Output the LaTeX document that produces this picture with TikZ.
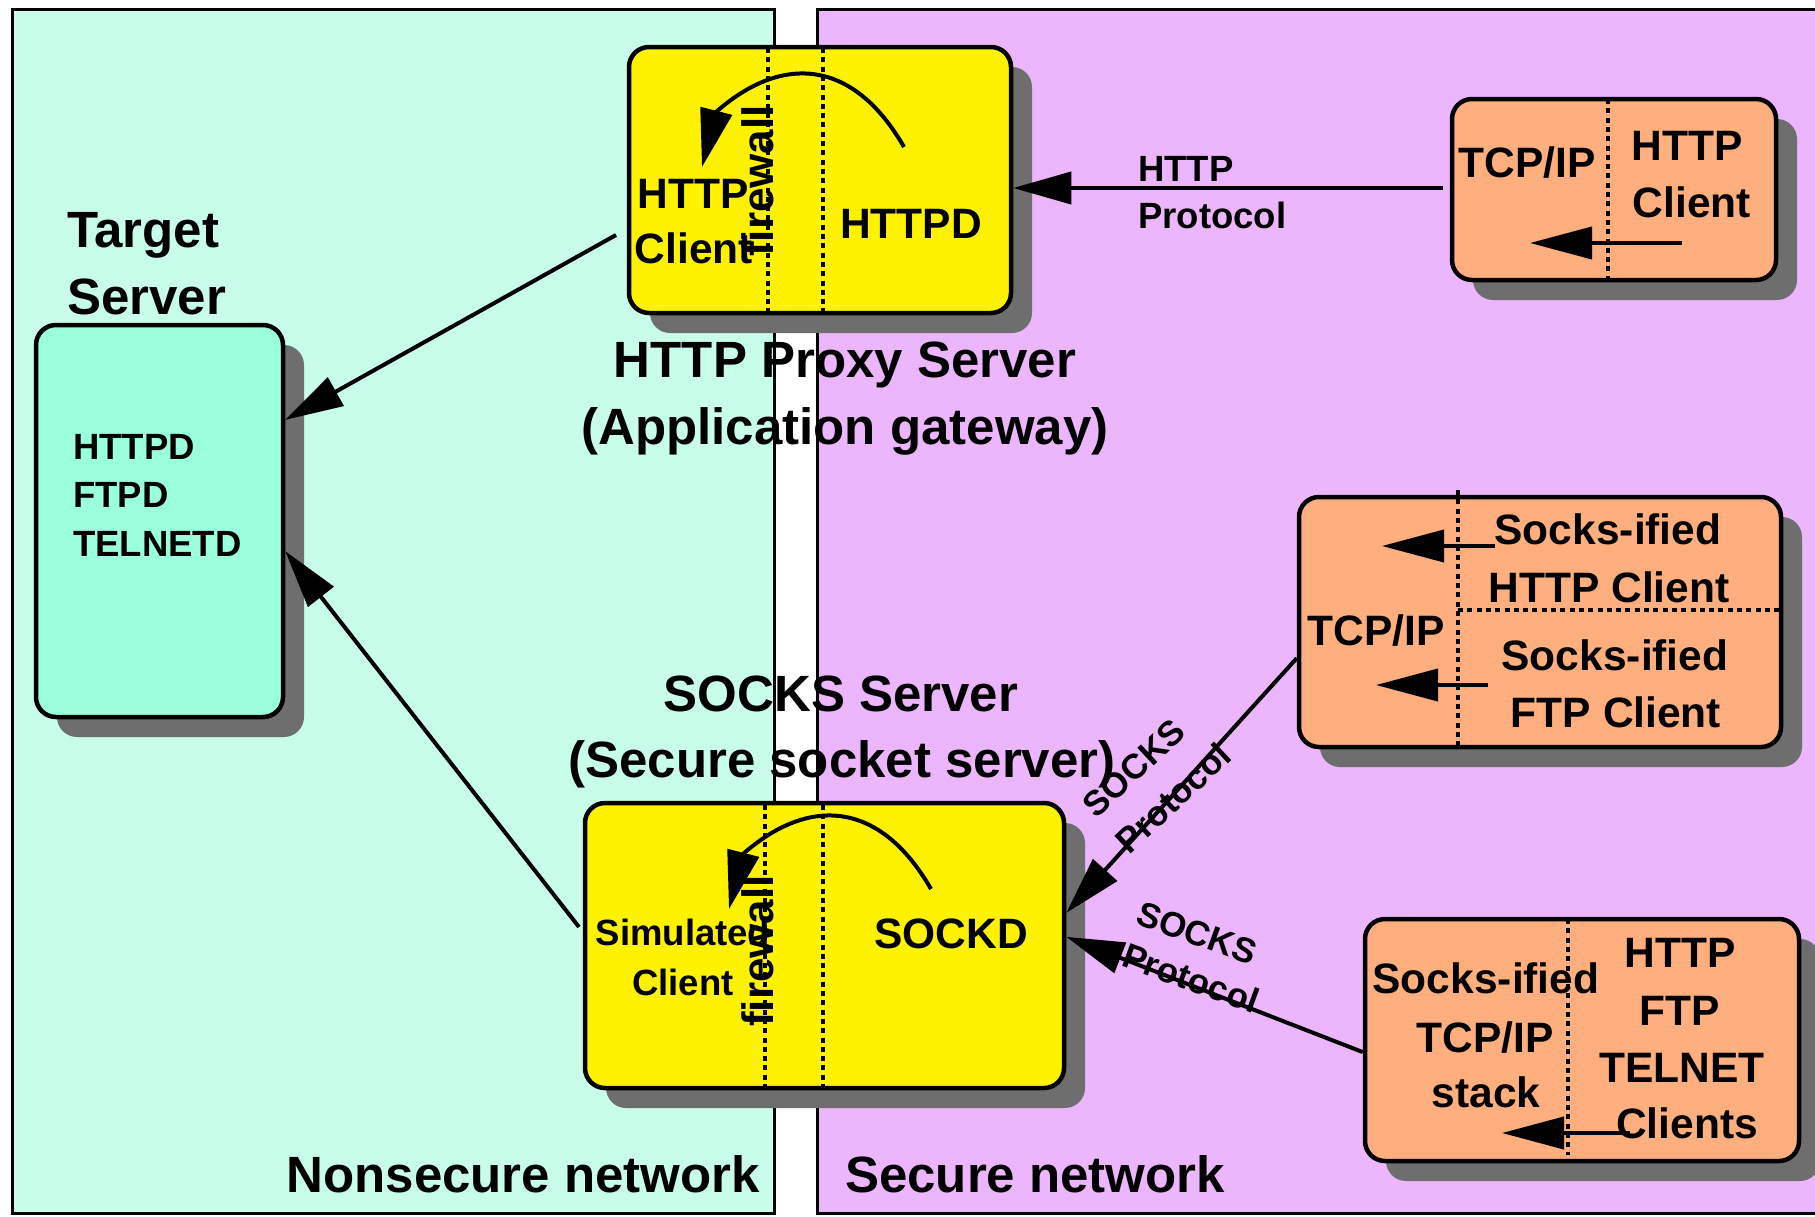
\documentclass[tikz,border=0pt]{standalone}
\usepackage{fontspec}
\setmainfont{Liberation Sans}
\usetikzlibrary{arrows.meta,shadows,calc}
\definecolor{mintbg}{HTML}{C8FDEA}
\definecolor{secbg}{HTML}{EBB6FB}
\definecolor{tgtgreen}{HTML}{99FFDD}
\definecolor{orng}{HTML}{FFAE7D}
\definecolor{shgray}{HTML}{6E6E6E}
\newcommand\fsz[1]{\fontsize{#1}{#1}\selectfont\bfseries}
\tikzset{
  box/.style={draw, line width=4.5pt, rounded corners=20pt,
    drop shadow={shadow xshift=21pt, shadow yshift=-20pt, fill=shgray, opacity=1}},
  conn/.style={line width=4pt, -{Triangle[length=58pt,width=32pt]}},
  inarr/.style={line width=4pt, -{Triangle[length=62pt,width=32pt]}},
  dots/.style={line width=4pt, dash pattern=on 5pt off 4.3pt},
  tT/.style={inner sep=0, font={\fsz{51}}},
  tM/.style={inner sep=0, font={\fsz{42.5}}},
  tS/.style={inner sep=0, font={\fsz{36.5}}},
  tF/.style={inner sep=0, font={\fsz{44}}, rotate=90},
  tP/.style={inner sep=0, font={\fsz{35}}},
}
\begin{document}
\begin{tikzpicture}[x=1pt,y=-1pt]
\useasboundingbox (0,0) rectangle (1815,1216);
\clip (0,0) rectangle (1815,1216);
\fill[white] (0,0) rectangle (1815,1216);
% network panels
\draw[line width=3pt, fill=mintbg] (12,9) rectangle (774,1213);
\draw[line width=3pt, fill=secbg] (817,9) rectangle (1850,1213);

% boxes
\node[box, fill=tgtgreen, minimum width=247pt, minimum height=392pt] (target) at (159.5,521) {};
\node[box, fill=yellow, minimum width=382pt, minimum height=266pt] (proxy) at (820,180) {};
\node[box, fill=yellow, minimum width=479pt, minimum height=285pt] (sockd) at (824.5,945.5) {};
\node[box, fill=orng, minimum width=324pt, minimum height=181pt] (hcli) at (1614,189.5) {};
\node[box, fill=orng, minimum width=482pt, minimum height=250pt] (scli) at (1540,622) {};
\node[box, fill=orng, minimum width=434pt, minimum height=242pt] (stack) at (1582,1040) {};

% dotted separators
\draw[dots] (768,48) -- (768,312);
\draw[dots] (823,48) -- (823,312);
\draw[dots] (765,805) -- (765,1086);
\draw[dots] (823,805) -- (823,1086);
\draw[dots] (1608,99) -- (1608,280);
\draw[dots] (1458,490) -- (1458,747);
\draw[dots] (1458,610) -- (1781,610);
\draw[dots] (1568,919) -- (1568,1155);

% panel and title texts
\node[tT, anchor=base west] (tgA) at (67,247) {Target};
\node[tT, anchor=base west] (tgB) at (67,314) {Server};
\node[tS, anchor=base west] (d1) at (73,459) {HTTPD};
\node[tS, anchor=base west] (d2) at (73,507) {FTPD};
\node[tS, anchor=base west] (d3) at (73,556) {TELNETD};
\node[tT, anchor=base] (pt1) at (845,377) {HTTP Proxy Server};
\node[tT, anchor=base] (pt2) at (845,444) {(Application gateway)};
\node[tT, anchor=base] (st1) at (841,711) {SOCKS Server};
\node[tT, anchor=base] (st2) at (842,777) {(Secure socket server)};
\node[tT, anchor=base east] (nsn) at (760,1192) {Nonsecure network};
\node[tT, anchor=base west] (sn) at (845,1192) {Secure network};

% proxy box texts
\node[tM, anchor=base] (pc1) at (693,208) {HTTP};
\node[tM, anchor=base] (pc2) at (694,263) {Client};
\node[tM, anchor=base] (phd) at (911,238) {HTTPD};

% socks box texts
\node[tS, anchor=base] (sc1) at (683,945) {Simulated};
\node[tS, anchor=base] (sc2) at (683,995) {Client};
\node[tM, anchor=base] (skd) at (951,948) {SOCKD};

% HTTP client box
\node[tM, anchor=base] (a1) at (1527,177) {TCP/IP};
\node[tM, anchor=base] (a2) at (1687,160) {HTTP};
\node[tM, anchor=base] (a3) at (1692,217) {Client};

% socks-ified clients box
\node[tM, anchor=base] (b0) at (1376,645) {TCP/IP};
\node[tM, anchor=base] (b1) at (1608,544) {Socks-ified};
\node[tM, anchor=base] (b2) at (1609,602) {HTTP Client};
\node[tM, anchor=base] (b3) at (1615,670) {Socks-ified};
\node[tM, anchor=base] (b4) at (1616,727) {FTP Client};

% socks-ified stack box
\node[tM, anchor=base] (c1) at (1486,993) {Socks-ified};
\node[tM, anchor=base] (c2) at (1485,1052) {TCP/IP};
\node[tM, anchor=base] (c3) at (1486,1107) {stack};
\node[tM, anchor=base] (c4) at (1680,967) {HTTP};
\node[tM, anchor=base] (c5) at (1680,1025) {FTP};
\node[tM, anchor=base] (c6) at (1682,1082) {TELNET};
\node[tM, anchor=base] (c7) at (1687,1138) {Clients};

% connector labels
\node[tS, anchor=base west] (hp1) at (1138,181) {HTTP};
\node[tS, anchor=base west] (hp2) at (1138,228) {Protocol};
\node[tP, rotate=43] (sp1) at (1134,768) {SOCKS};
\node[tP, rotate=43] (sp2) at (1173,798) {Protocol};
\node[tP, rotate=-20] (sp3) at (1197,933) {SOCKS};
\node[tP, rotate=-20] (sp4) at (1191,978) {Protocol};

% connectors
\coordinate (h1) at (1443,188);
\draw[conn] (h1) -- (proxy.east |- h1);
\coordinate (p1) at (616,235);
\draw[conn] (p1) -- ($(target.north east)!0.245!(target.south east)$);
\coordinate (s1) at (579,927);
\draw[conn] (s1) -- ($(target.north east)!0.576!(target.south east)$);
\draw[conn] ($(scli.north west)!0.642!(scli.south west)$) -- ($(sockd.north east)!0.3875!(sockd.south east)$);
\draw[conn] ($(stack.north west)!0.549!(stack.south west)$) -- ($(sockd.north east)!0.47!(sockd.south east)$);

% inner arrows
\draw[inarr] (1682,243) -- (1530,243);
\draw[inarr] (1495,546) -- (1382,546);
\draw[inarr] (1488,685) -- (1376,685);
\draw[inarr] (1630,1133) -- (1502,1133);

% curved arrows through the firewall
\draw[conn] (904,147) .. controls (854,60) and (783.5,52.6) .. (716,112) -- (702,167);
\draw[conn] (931,889) .. controls (881,802) and (810.5,794.6) .. (743,854) -- (729,909);

% firewall labels
\node[tF] (fw1) at (758,181) {firewall};
\node[tF] (fw2) at (758,951) {firewall};
\end{tikzpicture}
\end{document}
